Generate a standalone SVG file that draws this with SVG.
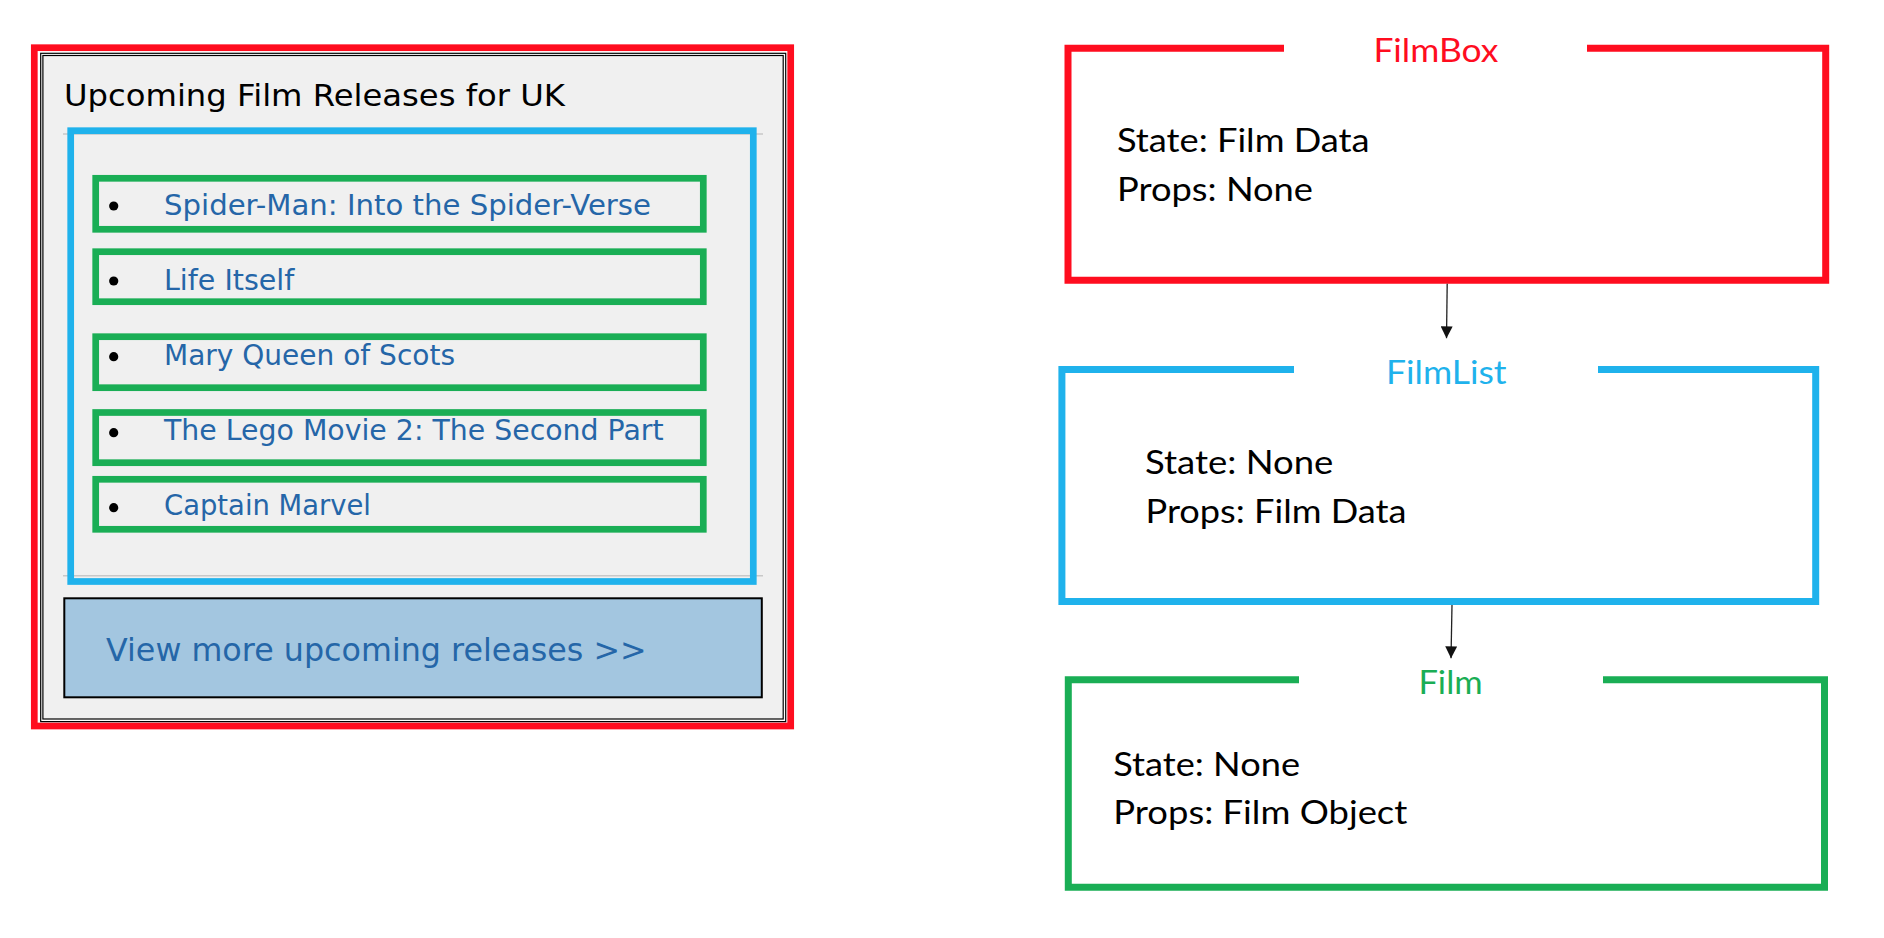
<svg xmlns="http://www.w3.org/2000/svg" width="1884" height="938" viewBox="0 0 1884 938">
  <defs>
    <style>
      .ui { font-family: "DejaVu Sans", Verdana, sans-serif; }
      .item { font-size: 29px; fill: #2566A8; }
      .frame { fill: none; stroke-width: 7; stroke-linejoin: miter; stroke-linecap: butt; }
      .body { font-family: Lato, "Open Sans", sans-serif; font-size: 32.5px; fill: #000; }
      .label { font-family: Lato, "Open Sans", sans-serif; font-size: 33.5px; }
      .green { fill: none; stroke: #1AAE55; stroke-width: 6.7; }
      .sep { stroke: #C8C8C8; stroke-width: 1.4; }
      .conn { stroke: #222; stroke-width: 1.3; fill: none; }
    </style>
    <marker id="arrow" markerUnits="userSpaceOnUse" markerWidth="12" markerHeight="12" refX="12" refY="6" orient="auto">
      <path d="M0,0 L12,6 L0,12 z" fill="#111"/>
    </marker>
  </defs>
  <rect width="1884" height="938" fill="#FFFFFF"/>

  <!-- Left panel: UI mockup -->
  <g id="mockup">
    <rect x="34.3" y="47.7" width="756.4" height="678.3" fill="#FFFFFF" stroke="#FF0D1F" stroke-width="6.7"/>
    <rect x="40.7" y="53.3" width="745" height="668.3" fill="#FFFFFF" stroke="#000" stroke-width="1.2"/>
    <rect x="42.9" y="55.5" width="740.3" height="663.5" fill="#F0F0F0" stroke="#000" stroke-width="1.2"/>
    <text class="ui" x="64" y="105.7" font-size="30.5" fill="#000" textLength="501" lengthAdjust="spacingAndGlyphs">Upcoming Film Releases for UK</text>
    <line class="sep" x1="63" y1="134" x2="763" y2="134"/>
    <line class="sep" x1="63" y1="575.7" x2="763" y2="575.7"/>

    <g id="filmlist-area">
      <rect x="70.7" y="130.7" width="682.6" height="450.8" fill="none" stroke="#1FB2EC" stroke-width="6.7"/>
    </g>

    <g id="item1">
      <rect class="green" x="95.7" y="178.3" width="607.6" height="51"/>
      <circle cx="113.7" cy="206" r="4.6" fill="#000"/>
      <text class="ui item" x="164" y="215" textLength="487" lengthAdjust="spacingAndGlyphs">Spider-Man: Into the Spider-Verse</text>
    </g>
    <g id="item2">
      <rect class="green" x="95.7" y="251.7" width="607.6" height="50"/>
      <circle cx="113.7" cy="281" r="4.6" fill="#000"/>
      <text class="ui item" x="164" y="290" textLength="130.3" lengthAdjust="spacingAndGlyphs">Life Itself</text>
    </g>
    <g id="item3">
      <rect class="green" x="95.7" y="336.7" width="607.6" height="51"/>
      <circle cx="113.7" cy="356.7" r="4.6" fill="#000"/>
      <text class="ui item" x="164" y="365" textLength="291" lengthAdjust="spacingAndGlyphs">Mary Queen of Scots</text>
    </g>
    <g id="item4">
      <rect class="green" x="95.7" y="412.5" width="607.6" height="50.2"/>
      <circle cx="113.7" cy="432.7" r="4.6" fill="#000"/>
      <text class="ui item" x="164" y="440" textLength="499.6" lengthAdjust="spacingAndGlyphs">The Lego Movie 2: The Second Part</text>
    </g>
    <g id="item5">
      <rect class="green" x="95.7" y="479.3" width="607.6" height="50"/>
      <circle cx="113.7" cy="507.7" r="4.6" fill="#000"/>
      <text class="ui item" x="164" y="515" textLength="207" lengthAdjust="spacingAndGlyphs">Captain Marvel</text>
    </g>

    <g id="more-button">
      <rect x="64.3" y="598.3" width="697.5" height="99" fill="#A3C6E0" stroke="#000" stroke-width="2"/>
      <text class="ui" x="106" y="661" font-size="32.5" fill="#2566A8" textLength="540.7" lengthAdjust="spacingAndGlyphs">View more upcoming releases &gt;&gt;</text>
    </g>
  </g>

  <!-- Right: component tree -->
  <g id="filmbox">
    <path class="frame" stroke="#FF0D1F" d="M1284,48.3 H1068 V280.3 H1825.7 V48.3 H1587"/>
    <text class="label" x="1373.4" y="61.7" fill="#FF0D1F" textLength="125" lengthAdjust="spacingAndGlyphs">FilmBox</text>
    <text class="body" x="1117" y="152.3" textLength="252.6" lengthAdjust="spacingAndGlyphs">State: Film Data</text>
    <text class="body" x="1117" y="200.7" textLength="196" lengthAdjust="spacingAndGlyphs">Props: None</text>
  </g>

  <g id="filmlist">
    <path class="frame" stroke="#1FB2EC" d="M1294,369.5 H1061.9 V601.5 H1815.7 V369.5 H1598"/>
    <text class="label" x="1386" y="384.3" fill="#1FB2EC" textLength="120.6" lengthAdjust="spacingAndGlyphs">FilmList</text>
    <text class="body" x="1145" y="474" textLength="188.3" lengthAdjust="spacingAndGlyphs">State: None</text>
    <text class="body" x="1145.5" y="523.3" textLength="261" lengthAdjust="spacingAndGlyphs">Props: Film Data</text>
  </g>

  <g id="film">
    <path class="frame" stroke="#1AAE55" d="M1299,679.7 H1068.3 V887.2 H1824.5 V679.7 H1603"/>
    <text class="label" x="1418.4" y="694.3" fill="#1AAE55" textLength="64.3" lengthAdjust="spacingAndGlyphs">Film</text>
    <text class="body" x="1113.3" y="775.7" textLength="186.7" lengthAdjust="spacingAndGlyphs">State: None</text>
    <text class="body" x="1113.3" y="824" textLength="294" lengthAdjust="spacingAndGlyphs">Props: Film Object</text>
  </g>

  <g id="connectors">
    <line class="conn" x1="1447.2" y1="283.8" x2="1446.5" y2="338.3" marker-end="url(#arrow)"/>
    <line class="conn" x1="1452" y1="605" x2="1451" y2="658.3" marker-end="url(#arrow)"/>
  </g>
</svg>
